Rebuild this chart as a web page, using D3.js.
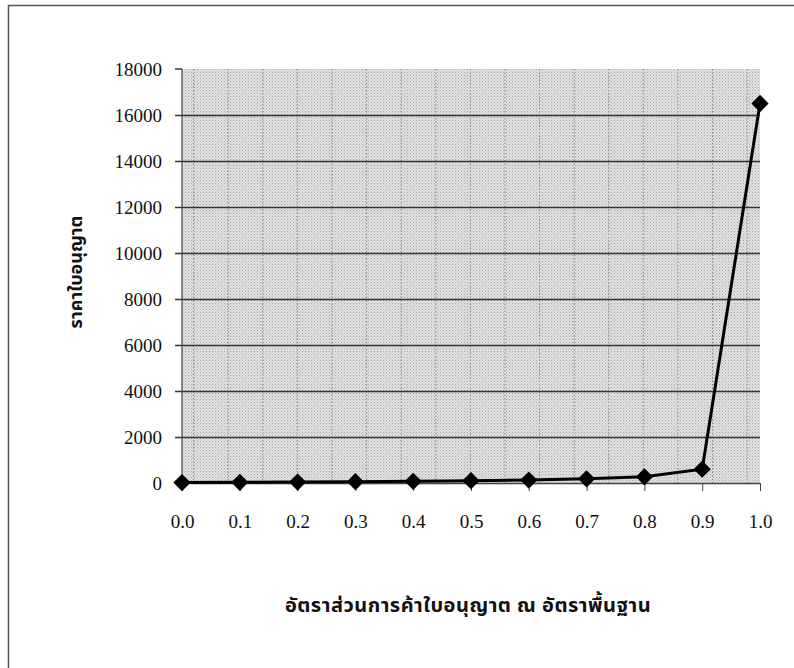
<!DOCTYPE html>
<html>
<head>
<meta charset="utf-8">
<script src="https://cdn.jsdelivr.net/npm/d3@7"></script>
<style>
  body { margin: 0; background: #fff; }
  .title { font-family: "Noto Sans Thai", "Noto Sans", "DejaVu Sans", sans-serif; font-weight: bold; fill: #111; }
</style>
</head>
<body>
<div id="chart"></div>
<script>
// data
const ratios = [0.0, 0.1, 0.2, 0.3, 0.4, 0.5, 0.6, 0.7, 0.8, 0.9, 1.0];
const prices = [20, 30, 40, 55, 75, 100, 130, 180, 270, 600, 16500];
const yTicks = [0, 2000, 4000, 6000, 8000, 10000, 12000, 14000, 16000, 18000];
const xTitle = 'อัตราส่วนการค้าใบอนุญาต ณ อัตราพื้นฐาน';
const yTitle = 'ราคาใบอนุญาต';

const width = 794, height = 668;
const margin = {top: 69, right: 34, bottom: 185, left: 182};
const w = width - margin.left - margin.right;
const h = height - margin.top - margin.bottom;
const tickFont = '"Liberation Serif", "Times New Roman", serif';

const svg = d3.select('#chart').append('svg')
  .attr('width', width)
  .attr('height', height);

// outer frame (top + left only visible)
svg.append('path')
  .attr('d', 'M8.5,' + height + ' L8.5,5.5 L' + width + ',5.5')
  .attr('fill', 'none')
  .attr('stroke', '#555')
  .attr('stroke-width', 1.5);

// stipple pattern for the plot background
const defs = svg.append('defs');
const pat = defs.append('pattern')
  .attr('id', 'stip')
  .attr('width', 3).attr('height', 3)
  .attr('patternUnits', 'userSpaceOnUse');
pat.append('rect').attr('width', 3).attr('height', 3).attr('fill', '#e0e0e0');
pat.append('rect').attr('width', 1).attr('height', 1).attr('fill', '#a8a8a8');
pat.append('rect').attr('x', 1.5).attr('y', 1.5).attr('width', 1).attr('height', 1).attr('fill', '#bdbdbd');

const g = svg.append('g')
  .attr('transform', 'translate(' + margin.left + ',' + margin.top + ')');

const x = d3.scaleLinear().domain([0, 1]).range([0, w]);
const y = d3.scaleLinear().domain([0, 18000]).range([h, 0]);

g.append('rect')
  .attr('width', w).attr('height', h)
  .attr('fill', 'url(#stip)');

// dotted vertical lines of the pattern fill
const dotStep = 34.6;
g.append('g').selectAll('line')
  .data(d3.range(dotStep / 3, w, dotStep))
  .enter().append('line')
  .attr('x1', d => d).attr('x2', d => d)
  .attr('y1', 0).attr('y2', h)
  .attr('stroke', '#888')
  .attr('stroke-width', 1)
  .attr('stroke-dasharray', '1.5,2');

// y axis with full-width gridlines
const yAxis = g.append('g')
  .attr('font-family', tickFont)
  .attr('font-size', 19)
  .call(d3.axisLeft(y).tickValues(yTicks).tickFormat(d3.format('d')).tickSize(-w).tickSizeOuter(0).tickPadding(20));
yAxis.attr('font-family', tickFont).attr('font-size', 19);
yAxis.select('.domain').remove();
yAxis.selectAll('.tick line')
  .attr('x1', -7)
  .attr('stroke', d => d === 18000 ? 'none' : '#333')
  .attr('stroke-width', 1.5);
yAxis.selectAll('.tick text').attr('dy', '0.35em').attr('fill', '#111');

// short tick for 18000
g.append('line')
  .attr('x1', -7).attr('x2', 0)
  .attr('y1', y(18000)).attr('y2', y(18000))
  .attr('stroke', '#333').attr('stroke-width', 1.5);

// y axis line
g.append('line')
  .attr('x1', 0).attr('x2', 0)
  .attr('y1', 0).attr('y2', h)
  .attr('stroke', '#444').attr('stroke-width', 1.2);

// x axis
const xAxis = g.append('g')
  .attr('transform', 'translate(0,' + h + ')')
  .call(d3.axisBottom(x).tickValues(ratios).tickFormat(d3.format('.1f')).tickSize(8).tickSizeOuter(0).tickPadding(24));
xAxis.attr('font-family', tickFont).attr('font-size', 19);
xAxis.select('.domain').attr('stroke', '#444').attr('stroke-width', 1.2);
xAxis.selectAll('.tick line').attr('stroke', '#444');
xAxis.selectAll('.tick text').attr('fill', '#111');

// line
const line = d3.line()
  .x((d, i) => x(ratios[i]))
  .y(d => y(d));

g.append('path')
  .datum(prices)
  .attr('d', line)
  .attr('fill', 'none')
  .attr('stroke', '#000')
  .attr('stroke-width', 3);

// diamond markers
g.selectAll('.pt')
  .data(prices)
  .enter().append('path')
  .attr('class', 'pt')
  .attr('d', d3.symbol().type(d3.symbolDiamond2).size(190))
  .attr('transform', (d, i) => 'translate(' + x(ratios[i]) + ',' + y(d) + ')')
  .attr('fill', '#000');

// titles
svg.append('text')
  .attr('class', 'title')
  .attr('x', 468).attr('y', 612)
  .attr('text-anchor', 'middle')
  .style('font-size', '20px')
  .style('letter-spacing', '0.5px')
  .text(xTitle);

svg.append('text')
  .attr('class', 'title')
  .attr('transform', 'translate(82,272) rotate(-90)')
  .attr('text-anchor', 'middle')
  .style('font-size', '18px')
  .text(yTitle);
</script>
</body>
</html>
